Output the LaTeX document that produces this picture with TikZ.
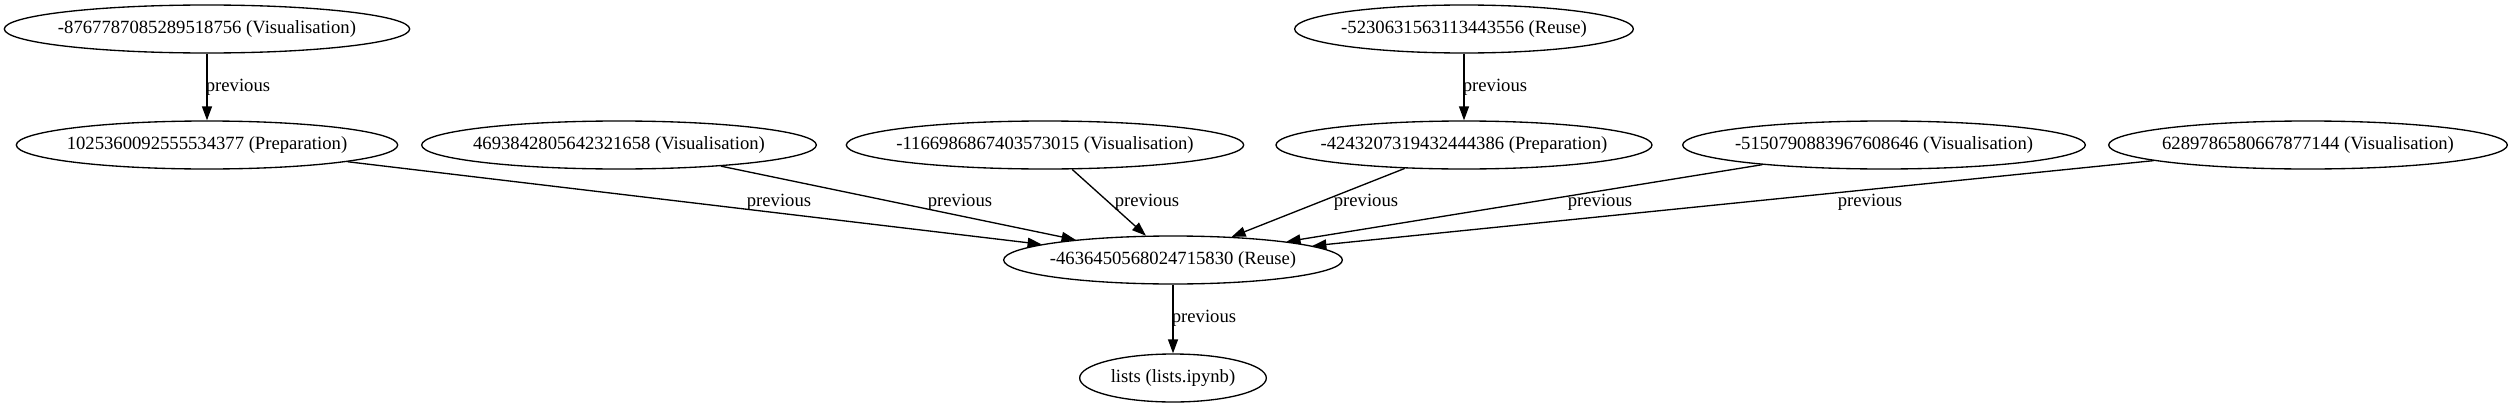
\documentclass[tikz,border=0pt]{standalone}
\usepackage{fontspec}
\setmainfont{Liberation Serif}
\usetikzlibrary{arrows.meta,shapes.geometric}

\begin{document}
\begin{tikzpicture}[x=0.75pt,y=-0.75pt,
    cell/.style={ellipse,draw,line width=1pt,inner xsep=-8pt,inner ysep=0pt,minimum height=36pt,
        font=\fontsize{14pt}{16pt}\selectfont},
    prev/.style={line width=1pt,-{Triangle[length=10.5pt,width=7.5pt]}},
    lbl/.style={inner sep=0pt,font=\fontsize{14pt}{16pt}\selectfont}]
            \useasboundingbox (0,0) rectangle (2512,407);
            % top row
            \node[cell,minimum width=304pt] (vis1) at (207,29) {-8767787085289518756 (Visualisation)};
            \node[cell,minimum width=254pt] (reuse1) at (1464,29) {-5230631563113443556 (Reuse)};
            % middle row
            \node[cell,minimum width=286pt] (prep1) at (207,145) {1025360092555534377 (Preparation)};
            \node[cell,minimum width=296pt] (vis2) at (619,145) {4693842805642321658 (Visualisation)};
            \node[cell,minimum width=298pt] (vis3) at (1045,145) {-1166986867403573015 (Visualisation)};
            \node[cell,minimum width=282pt] (prep2) at (1464,145) {-4243207319432444386 (Preparation)};
            \node[cell,minimum width=302pt] (vis4) at (1884,145) {-5150790883967608646 (Visualisation)};
            \node[cell,minimum width=299pt] (vis5) at (2308,145) {6289786580667877144 (Visualisation)};
            % bottom
            \node[cell,minimum width=254pt] (reuse2) at (1173,260) {-4636450568024715830 (Reuse)};
            \node[cell,minimum width=140pt] (nb) at (1173,378) {lists (lists.ipynb)};
            % edges
            \draw[prev] (vis1) -- (prep1);
            \draw[prev] (reuse1) -- (prep2);
            \draw[prev] (prep1) -- (reuse2);
            \draw[prev] (vis2) -- (reuse2);
            \draw[prev] (vis3) -- (reuse2);
            \draw[prev] (prep2) -- (reuse2);
            \draw[prev] (vis4) -- (reuse2);
            \draw[prev] (vis5) -- (reuse2);
            \draw[prev] (reuse2) -- (nb);
            % labels
            \node[lbl] (l1) at (238,87) {previous};
            \node[lbl] (l2) at (1495,87) {previous};
            \node[lbl] (l3) at (779,202) {previous};
            \node[lbl] (l4) at (960,202) {previous};
            \node[lbl] (l5) at (1147,202) {previous};
            \node[lbl] (l6) at (1366,202) {previous};
            \node[lbl] (l7) at (1600,202) {previous};
            \node[lbl] (l8) at (1870,202) {previous};
            \node[lbl] (l9) at (1204,318) {previous};
\end{tikzpicture}
\end{document}
